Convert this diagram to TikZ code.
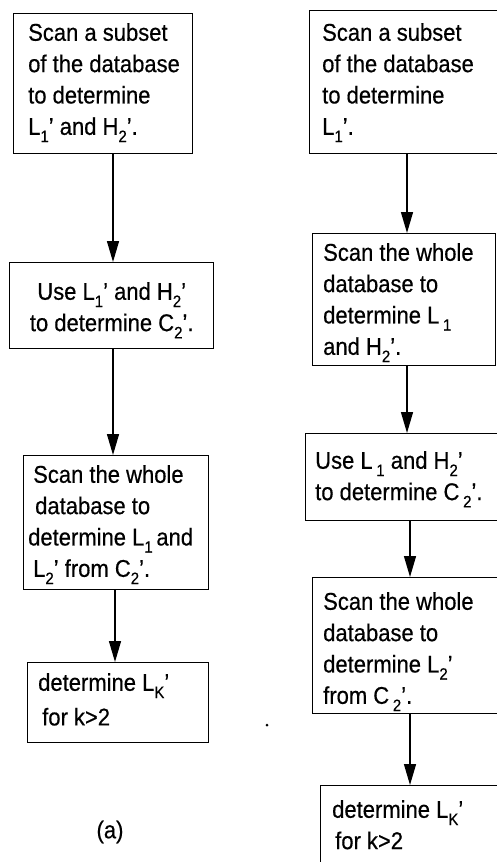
\documentclass[tikz,border=0pt]{standalone}
\usepackage{fontspec}
\setmainfont[FakeBold=0.5]{Liberation Sans}
\usetikzlibrary{arrows.meta}
\newcommand\sbs[1]{\raisebox{-0.3em}{\fontsize{15}{15}\selectfont #1}}
\tikzset{
  box/.style={draw, line width=1.4pt, anchor=north west, inner sep=0pt},
  txt/.style={anchor=north west, inner sep=0pt, align=left,
    font=\fontsize{22}{28.5}\selectfont, yscale=1.1, transform shape},
  ctxt/.style={txt, anchor=north, align=center},
  lab/.style={inner sep=0pt, font=\fontsize{22}{26}\selectfont, yscale=1.1, transform shape},
  arr/.style={line width=1.4pt, -{Triangle[length=21pt,width=12pt]}},
}
\begin{document}
\begin{tikzpicture}[x=1pt,y=1pt]
\useasboundingbox (0,0) rectangle (497,-862);
\clip (0,0) rectangle (497,-862);

% left column boxes
\node[box, minimum width=179pt, minimum height=140pt] (A1) at (13,-13) {};
\node[box, minimum width=204pt, minimum height=86pt]  (A2) at (9,-262) {};
\node[box, minimum width=185pt, minimum height=134pt] (A3) at (23,-455) {};
\node[box, minimum width=181pt, minimum height=80pt]  (A4) at (27,-662) {};

% right column boxes
\node[box, minimum width=200pt, minimum height=143pt] (B1) at (309,-10) {};
\node[box, minimum width=183pt, minimum height=132pt] (B2) at (312,-233) {};
\node[box, minimum width=205pt, minimum height=87pt]  (B3) at (305,-433) {};
\node[box, minimum width=200pt, minimum height=136pt] (B4) at (312,-577) {};
\node[box, minimum width=190pt, minimum height=100pt] (B5) at (320,-785) {};

% texts
\node[txt] (A1t) at ([shift={(15,-10)}]A1.north west)
  {Scan a subset\\of the database\\to determine\\L\sbs{1}' and H\sbs{2}'.};
\node[ctxt] (A2t) at ([shift={(0,-20)}]A2.north)
  {Use L\sbs{1}' and H\sbs{2}'\\to determine C\sbs{2}'.};
\node[txt] (A3t) at ([shift={(5,-10)}]A3.north west)
  {\hspace*{5pt}Scan the whole\\\hspace*{7pt}database to\\determine L\sbs{1}\,and\\\hspace*{5pt}L\sbs{2}' from C\sbs{2}'.};
\node[txt] (A4t) at ([shift={(11,-11)}]A4.north west)
  {determine L\sbs{K}'\\[3pt]\hspace*{4pt}for k>2};

\node[txt] (B1t) at ([shift={(13,-13)}]B1.north west)
  {Scan a subset\\of the database\\to determine\\L\sbs{1}'.};
\node[txt] (B2t) at ([shift={(11,-10)}]B2.north west)
  {Scan the whole\\database to\\determine L\,\sbs{1}\\and H\sbs{2}'.};
\node[txt] (B3t) at ([shift={(10,-18)}]B3.north west)
  {Use L\,\sbs{1} and H\sbs{2}'\\to determine C\,\sbs{2}'.};
\node[txt] (B4t) at ([shift={(11,-15)}]B4.north west)
  {Scan the whole\\database to\\determine L\sbs{2}'\\from C\,\sbs{2}'.};
\node[txt] (B5t) at ([shift={(12,-15)}]B5.north west)
  {determine L\sbs{K}'\\\hspace*{3pt}for k>2};

% arrow columns
\coordinate (axl) at (113,0);
\coordinate (axm) at (115,0);
\coordinate (axr) at (407,0);
\coordinate (axs) at (410,0);

\draw[arr] (A1.south -| axl) -- (A2.north -| axl);
\draw[arr] (A2.south -| axl) -- (A3.north -| axl);
\draw[arr] (A3.south -| axm) -- (A4.north -| axm);

\draw[arr] (B1.south -| axr) -- (B2.north -| axr);
\draw[arr] (B2.south -| axr) -- (B3.north -| axr);
\draw[arr] (B3.south -| axs) -- (B4.north -| axs);
\draw[arr] (B4.south -| axs) -- (B5.north -| axs);

% caption and speck
\node[lab] (cap) at (110,-832) {(a)};
\node[circle, fill, inner sep=0pt, minimum size=3pt] (spk) at (267,-725) {};
\end{tikzpicture}
\end{document}
